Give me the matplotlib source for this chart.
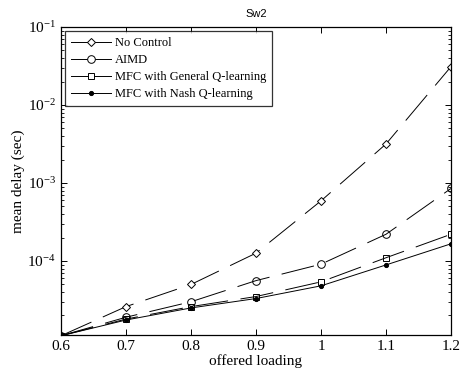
import matplotlib
matplotlib.use("Agg")
import matplotlib.pyplot as plt
from matplotlib.lines import Line2D

plt.rcParams['font.family'] = ['Liberation Serif', 'DejaVu Serif']
plt.rcParams['mathtext.fontset'] = 'custom'
plt.rcParams['mathtext.rm'] = 'Liberation Serif'
plt.rcParams['mathtext.it'] = 'Liberation Serif:italic'
plt.rcParams['lines.scale_dashes'] = False

x = [0.6, 0.7, 0.8, 0.9, 1.0, 1.1, 1.2]
no_control = [1.1e-5, 2.6e-5, 5.0e-5, 1.26e-4, 5.9e-4, 3.16e-3, 3.1e-2]
aimd = [1.1e-5, 1.9e-5, 3.0e-5, 5.6e-5, 9.1e-5, 2.2e-4, 8.5e-4]
mfc_general = [1.1e-5, 1.8e-5, 2.6e-5, 3.5e-5, 5.4e-5, 1.1e-4, 2.2e-4]
mfc_nash = [1.1e-5, 1.75e-5, 2.5e-5, 3.3e-5, 4.8e-5, 8.9e-5, 1.66e-4]
labels = ['No Control', 'AIMD', 'MFC with General Q-learning', 'MFC with Nash Q-learning']
xticks = [0.6, 0.7, 0.8, 0.9, 1.0, 1.1, 1.2]
xticklabels = ['0.6', '0.7', '0.8', '0.9', '1', '1.1', '1.2']

fig = plt.figure(figsize=(4.67, 3.75), dpi=100)
ax = fig.add_axes([0.1306, 0.1067, 0.8351, 0.8213])

dash = (0, (24, 9))
ax.plot(x, no_control, color='black', lw=0.7, linestyle=dash, marker='D', ms=4.3,
        mfc='white', mec='black', mew=0.7)
ax.plot(x, aimd, color='black', lw=0.7, linestyle=dash, marker='o', ms=5.5,
        mfc='none', mec='black', mew=0.7)
ax.plot(x, mfc_general, color='black', lw=0.7, linestyle=dash, marker='s', ms=5,
        mfc='none', mec='black', mew=0.7)
ax.plot(x, mfc_nash, color='black', lw=0.7, linestyle='-', marker='o', ms=3,
        mfc='black', mec='black', mew=0.7)

ax.set_yscale('log')
ax.set_xlim(0.6, 1.2)
ax.set_ylim(1.125e-5, 1e-1)
ax.set_xticks(xticks)
ax.set_xticklabels(xticklabels)
ax.set_yticks([1e-4, 1e-3, 1e-2, 1e-1])
ax.set_yticklabels([r'$10^{-4}$', r'$10^{-3}$', r'$10^{-2}$', r'$10^{-1}$'])
ax.tick_params(which='both', direction='in', top=True, right=True, labelsize=11)
ax.tick_params(which='major', length=4, width=0.7)
ax.tick_params(which='minor', length=2, width=0.6)
for s in ax.spines.values():
    s.set_linewidth(0.9)

ax.set_xlabel('offered loading', fontsize=11, labelpad=1)
ax.set_ylabel('mean delay (sec)', fontsize=11, labelpad=2)
ax.set_title('Sw2', fontsize=8, fontfamily='Liberation Sans', pad=7)

handles = [
    Line2D([], [], color='black', lw=0.7, marker='D', ms=4.3, mfc='white', mec='black', mew=0.7),
    Line2D([], [], color='black', lw=0.7, marker='o', ms=5.5, mfc='white', mec='black', mew=0.7),
    Line2D([], [], color='black', lw=0.7, marker='s', ms=5, mfc='white', mec='black', mew=0.7),
    Line2D([], [], color='black', lw=0.7, marker='o', ms=3, mfc='black', mec='black', mew=0.7),
]
leg = ax.legend(handles, labels, loc='upper left', fontsize=9, frameon=True, fancybox=False,
                edgecolor='black', borderpad=0.45, labelspacing=0.4, handlelength=3.2,
                handletextpad=0.3, borderaxespad=0.35, bbox_to_anchor=(0.0, 1.0))
leg.get_frame().set_linewidth(0.9)

fig.savefig('out.png', dpi=100)
